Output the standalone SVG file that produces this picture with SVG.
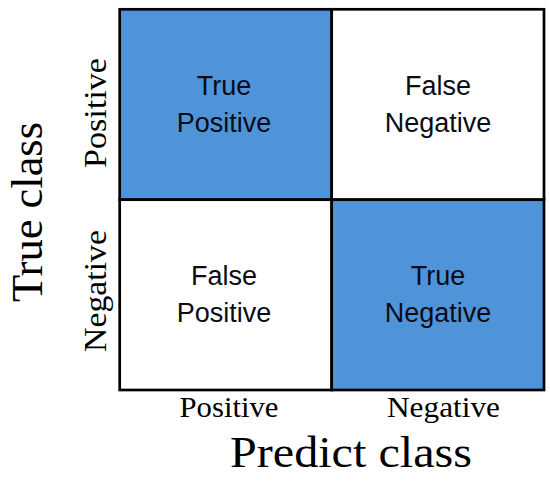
<svg xmlns="http://www.w3.org/2000/svg" width="550" height="483" viewBox="0 0 550 483">
<style>
.cell{stroke:#000;stroke-width:2.7}
.pos{fill:#4F94D8}
.neg{fill:#ffffff}
.ct{font-family:"Liberation Sans",Arial,sans-serif;font-size:27px;fill:#0b0b16;text-anchor:middle}
.ax{font-family:"Liberation Serif","Times New Roman",serif;fill:#000;text-anchor:middle}
</style>
<rect width="550" height="483" fill="#ffffff"/>
<g id="tp">
<rect class="cell pos" x="119.7" y="9.3" width="212" height="190.4"/>
<text class="ct" x="224" y="95">True</text>
<text class="ct" x="224" y="132">Positive</text>
</g>
<g id="fn">
<rect class="cell neg" x="331.7" y="9.3" width="212.3" height="190.4"/>
<text class="ct" x="438" y="95">False</text>
<text class="ct" x="438" y="132">Negative</text>
</g>
<g id="fp">
<rect class="cell neg" x="119.7" y="199.7" width="212" height="190.3"/>
<text class="ct" x="224" y="285">False</text>
<text class="ct" x="224" y="322">Positive</text>
</g>
<g id="tn">
<rect class="cell pos" x="331.7" y="199.7" width="212.3" height="190.3"/>
<text class="ct" x="438" y="285">True</text>
<text class="ct" x="438" y="322">Negative</text>
</g>
<g id="axis-labels">
<text class="ax" x="229" y="417" font-size="29" textLength="99" lengthAdjust="spacingAndGlyphs">Positive</text>
<text class="ax" x="443.5" y="417" font-size="29" textLength="113" lengthAdjust="spacingAndGlyphs">Negative</text>
<text class="ax" x="351" y="467" font-size="44" textLength="242" lengthAdjust="spacingAndGlyphs">Predict class</text>
<text class="ax" transform="translate(106,113) rotate(-90)" font-size="32" textLength="110" lengthAdjust="spacingAndGlyphs">Positive</text>
<text class="ax" transform="translate(106,291) rotate(-90)" font-size="32" textLength="122" lengthAdjust="spacingAndGlyphs">Negative</text>
<text class="ax" transform="translate(42,212) rotate(-90)" font-size="45" textLength="180" lengthAdjust="spacingAndGlyphs">True class</text>
</g>
</svg>
